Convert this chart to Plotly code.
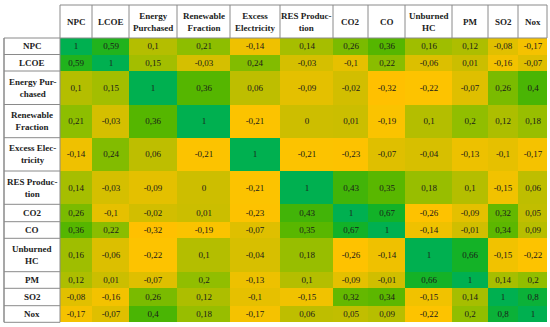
import plotly.graph_objects as go

# ---------------- data ----------------
variables = ["NPC", "LCOE", "Energy Purchased", "Renewable Fraction", "Excess Electricity",
             "RES Production", "CO2", "CO", "Unburned HC", "PM", "SO2", "Nox"]
col_headers = ["NPC", "LCOE", "Energy<br>Purchased", "Renewable<br>Fraction", "Excess<br>Electricity",
               "RES Produc-<br>tion", "CO2", "CO", "Unburned<br>HC", "PM", "SO2", "Nox"]
row_headers = ["NPC", "LCOE", "Energy Pur-<br>chased", "Renewable<br>Fraction", "Excess Elec-<br>tricity",
               "RES Produc-<br>tion", "CO2", "CO", "Unburned<br>HC", "PM", "SO2", "Nox"]

npc = [1, 0.59, 0.1, 0.21, -0.14, 0.14, 0.26, 0.36, 0.16, 0.12, -0.08, -0.17]
lcoe = [0.59, 1, 0.15, -0.03, 0.24, -0.03, -0.1, 0.22, -0.06, 0.01, -0.16, -0.07]
energy_purchased = [0.1, 0.15, 1, 0.36, 0.06, -0.09, -0.02, -0.32, -0.22, -0.07, 0.26, 0.4]
renewable_fraction = [0.21, -0.03, 0.36, 1, -0.21, 0, 0.01, -0.19, 0.1, 0.2, 0.12, 0.18]
excess_electricity = [-0.14, 0.24, 0.06, -0.21, 1, -0.21, -0.23, -0.07, -0.04, -0.13, -0.1, -0.17]
res_production = [0.14, -0.03, -0.09, 0, -0.21, 1, 0.43, 0.35, 0.18, 0.1, -0.15, 0.06]
co2 = [0.26, -0.1, -0.02, 0.01, -0.23, 0.43, 1, 0.67, -0.26, -0.09, 0.32, 0.05]
co = [0.36, 0.22, -0.32, -0.19, -0.07, 0.35, 0.67, 1, -0.14, -0.01, 0.34, 0.09]
unburned_hc = [0.16, -0.06, -0.22, 0.1, -0.04, 0.18, -0.26, -0.14, 1, 0.66, -0.15, -0.22]
pm = [0.12, 0.01, -0.07, 0.2, -0.13, 0.1, -0.09, -0.01, 0.66, 1, 0.14, 0.2]
so2 = [-0.08, -0.16, 0.26, 0.12, -0.1, -0.15, 0.32, 0.34, -0.15, 0.14, 1, 0.8]
nox = [-0.17, -0.07, 0.4, 0.18, -0.17, 0.06, 0.05, 0.09, -0.22, 0.2, 0.8, 1]

matrix = [npc, lcoe, energy_purchased, renewable_fraction, excess_electricity, res_production,
          co2, co, unburned_hc, pm, so2, nox]

# ---------------- layout (table geometry in pixels) ----------------
label_left = 4
col_edges = [60, 92, 129, 177, 230, 280, 333, 368, 405, 452, 488, 518, 547]
header_top = 5
row_edges = [38, 54.5, 71, 104.5, 137.7, 171, 204.3, 221.7, 238.3, 271.7, 288.3, 305.7, 322.3]

zmin, zmax = -0.32, 1.0
def s(v):
    return (v - zmin) / (zmax - zmin)

colorscale = [
    [s(-0.32), "rgb(255,192,0)"],
    [s(-0.2), "rgb(252,195,0)"],
    [s(-0.1), "rgb(230,192,0)"],
    [s(0.0), "rgb(205,190,0)"],
    [s(0.1), "rgb(180,190,0)"],
    [s(0.2), "rgb(145,190,0)"],
    [s(0.36), "rgb(85,182,0)"],
    [s(0.45), "rgb(60,180,10)"],
    [s(0.67), "rgb(18,178,40)"],
    [s(1.0), "rgb(0,176,80)"],
]

text = [[str(v).replace(".", ",") for v in row] for row in matrix]

SERIF = "Liberation Serif, DejaVu Serif, serif"

fig = go.Figure()
fig.add_trace(go.Heatmap(
    z=matrix, x=col_edges, y=row_edges,
    zmin=zmin, zmax=zmax, colorscale=colorscale, showscale=False,
    text=text, texttemplate="%{text}",
    textfont=dict(family=SERIF, size=9, color="#1a1a1a"),
    hoverinfo="skip",
))

annotations = []
for i, h in enumerate(col_headers):
    annotations.append(dict(
        x=(col_edges[i] + col_edges[i + 1]) / 2, y=(header_top + row_edges[0]) / 2,
        xref="x", yref="y", text="<b>" + h + "</b>", showarrow=False,
        font=dict(family=SERIF, size=9, color="#222"), align="center",
    ))
for j, h in enumerate(row_headers):
    annotations.append(dict(
        x=(label_left + col_edges[0]) / 2, y=(row_edges[j] + row_edges[j + 1]) / 2,
        xref="x", yref="y", text="<b>" + h + "</b>", showarrow=False,
        font=dict(family=SERIF, size=9, color="#222"), align="center",
    ))

line_col = "#8a8a8a"
shapes = []
shapes.append(dict(type="line", x0=col_edges[0], x1=col_edges[-1], y0=header_top, y1=header_top,
                   xref="x", yref="y", line=dict(color=line_col, width=1)))
for x in col_edges:
    shapes.append(dict(type="line", x0=x, x1=x, y0=header_top, y1=row_edges[0],
                       xref="x", yref="y", line=dict(color=line_col, width=1)))
for y in row_edges:
    shapes.append(dict(type="line", x0=label_left, x1=col_edges[0], y0=y, y1=y,
                       xref="x", yref="y", line=dict(color=line_col, width=1)))
shapes.append(dict(type="line", x0=col_edges[0], x1=col_edges[-1], y0=row_edges[0], y1=row_edges[0],
                   xref="x", yref="y", line=dict(color=line_col, width=1)))
shapes.append(dict(type="line", x0=label_left, x1=label_left, y0=row_edges[0], y1=row_edges[-1],
                   xref="x", yref="y", line=dict(color=line_col, width=1.5)))
shapes.append(dict(type="line", x0=col_edges[0], x1=col_edges[0], y0=row_edges[0], y1=row_edges[-1],
                   xref="x", yref="y", line=dict(color=line_col, width=1)))

fig.update_layout(
    width=550, height=327,
    margin=dict(l=0, r=0, t=0, b=0),
    paper_bgcolor="white", plot_bgcolor="white",
    xaxis=dict(range=[0, 550], visible=False, fixedrange=True),
    yaxis=dict(range=[327, 0], visible=False, fixedrange=True),
    annotations=annotations, shapes=shapes,
)

fig.write_html(
    "out.html",
    config={"displayModeBar": False},
    post_script="document.body.style.margin='0';document.body.style.overflow='hidden';",
)
